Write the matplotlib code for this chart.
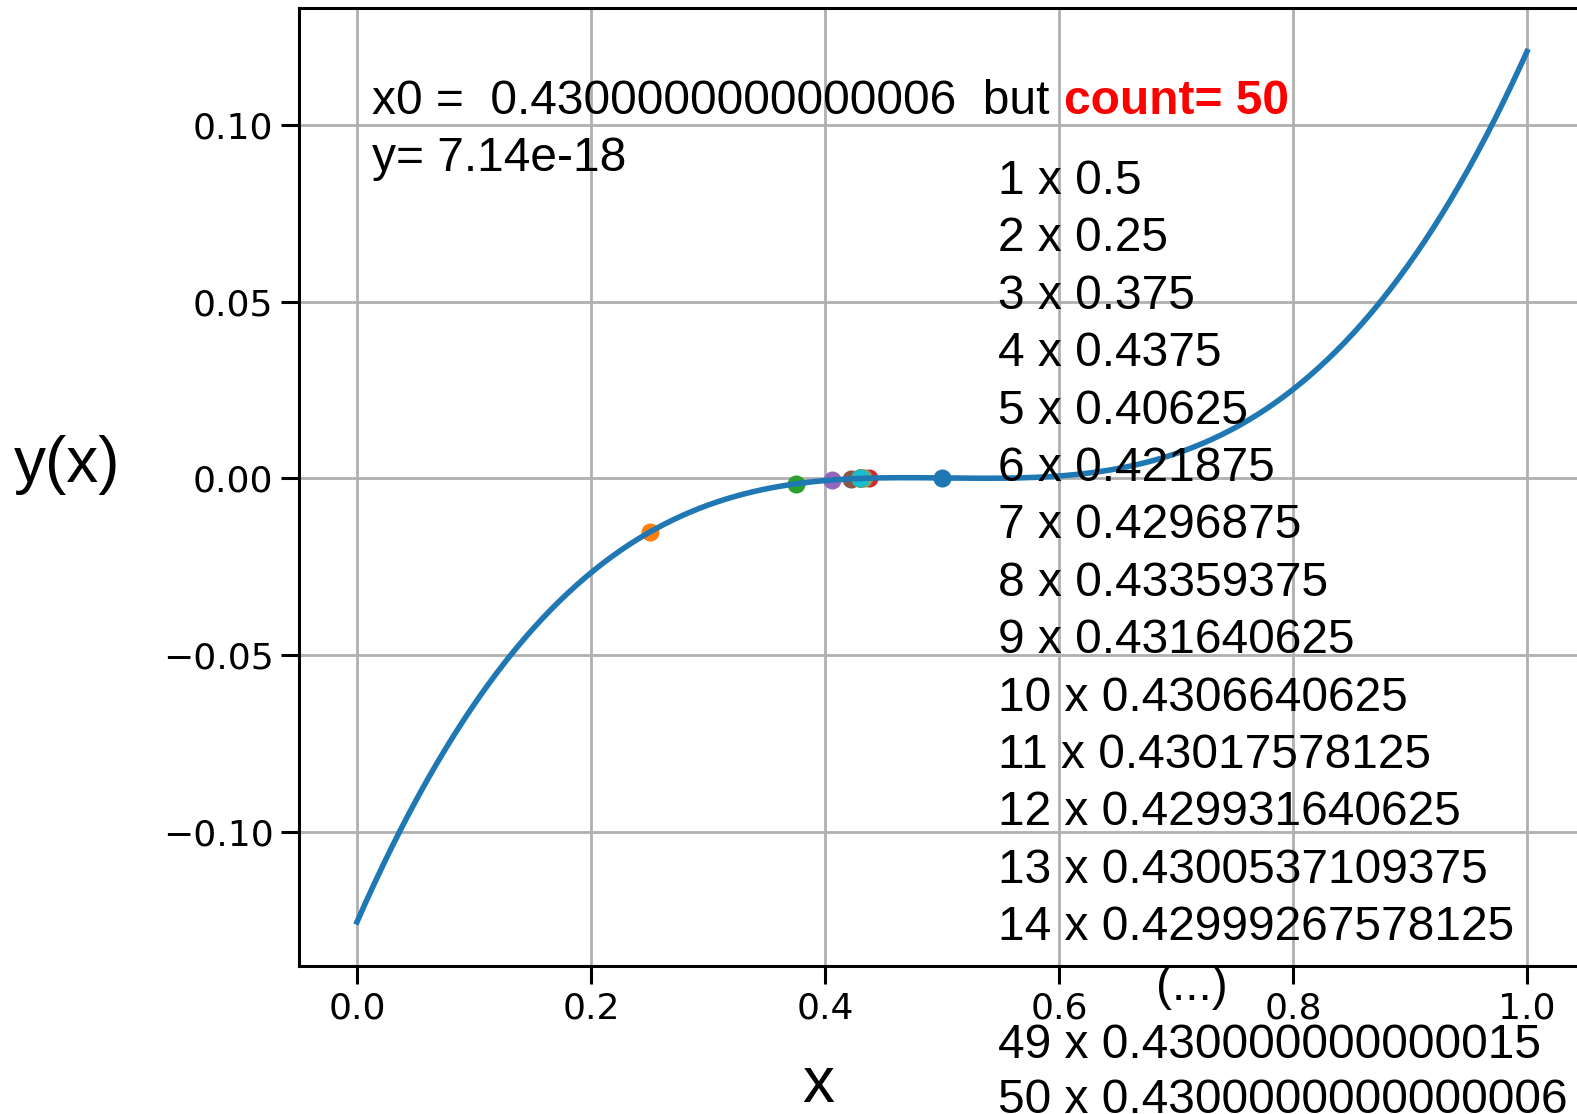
import matplotlib
matplotlib.use("Agg")
import matplotlib.pyplot as plt
import numpy as np

# bisection iterates shown in the picture (step number, x value)
steps = [1, 2, 3, 4, 5, 6, 7, 8, 9, 10, 11, 12, 13, 14, 49, 50]
x_iter = [0.5, 0.25, 0.375, 0.4375, 0.40625, 0.421875, 0.4296875,
          0.43359375, 0.431640625, 0.4306640625, 0.43017578125,
          0.429931640625, 0.4300537109375, 0.42999267578125,
          0.430000000000015, 0.4300000000000006]
x_labels = ["0.5", "0.25", "0.375", "0.4375", "0.40625", "0.421875",
            "0.4296875", "0.43359375", "0.431640625", "0.4306640625",
            "0.43017578125", "0.429931640625", "0.4300537109375",
            "0.42999267578125", "0.430000000000015", "0.4300000000000006"]
x0_text = "0.4300000000000006"
y0_text = "7.14e-18"
count = 50

# cubic with its root at 0.43
root = 0.43
centre = 0.54
offset = 0.0005


def f(x):
    return (x - root) * ((x - centre) ** 2 + offset)


W, H = 1577, 1114
fig = plt.figure(figsize=(W / 100, H / 100), dpi=100)
# right edge of the axes runs past the picture, as in the reference
ax = fig.add_axes([298.5 / W, 1 - 965.5 / H, 1287 / W, 957.5 / H])

colors = plt.rcParams['axes.prop_cycle'].by_key()['color']
for n, xv in zip(steps, x_iter):
    ax.plot(xv, f(xv), 'o', color=colors[(n - 1) % 10], markersize=12)

xs = np.linspace(0, 1, 400)
ax.plot(xs, f(xs), color=colors[0], linewidth=4)

ax.set_xlim(-0.05, 1.05)
ax.margins(y=0.05)
ax.set_xticks([0.0, 0.2, 0.4, 0.6, 0.8, 1.0])
ax.set_yticks([-0.10, -0.05, 0.0, 0.05, 0.10])
ax.grid(True, color='#b0b0b0', linewidth=2)
ax.tick_params(labelsize=26, length=13, width=2.2)
ax.tick_params(axis='x', pad=6)
ax.tick_params(axis='y', pad=5)
for s in ax.spines.values():
    s.set_linewidth(2.2)


def px(x, y):
    return x / W, 1 - y / H


font = ['Liberation Sans', 'DejaVu Sans']
fs = 34.5
fig.text(*px(372, 114), "x0 =  " + x0_text + "  but", fontsize=fs,
         family=font, va='baseline')
fig.text(*px(1064, 114), "count= %d" % count, fontsize=fs, family=font,
         va='baseline', color='red', fontweight='bold')
fig.text(*px(372, 171), "y= " + y0_text, fontsize=fs, family=font,
         va='baseline')

for i in range(14):
    fig.text(*px(998, 194 + 57.4 * i), "%d x %s" % (steps[i], x_labels[i]),
             fontsize=fs, family=font, va='baseline')
fig.text(*px(1192, 1000), "(...)", fontsize=fs, family=font,
         va='baseline', ha='center')
fig.text(*px(998, 1058), "%d x %s" % (steps[14], x_labels[14]),
         fontsize=fs, family=font, va='baseline')
fig.text(*px(998, 1113), "%d x %s" % (steps[15], x_labels[15]),
         fontsize=fs, family=font, va='baseline')

fig.text(*px(14, 482), "y(x)", fontsize=46, family=font, va='baseline')
fig.text(*px(818, 1102), "x", fontsize=46, family=font, va='baseline',
         ha='center')

fig.savefig('out.png', dpi=100)
